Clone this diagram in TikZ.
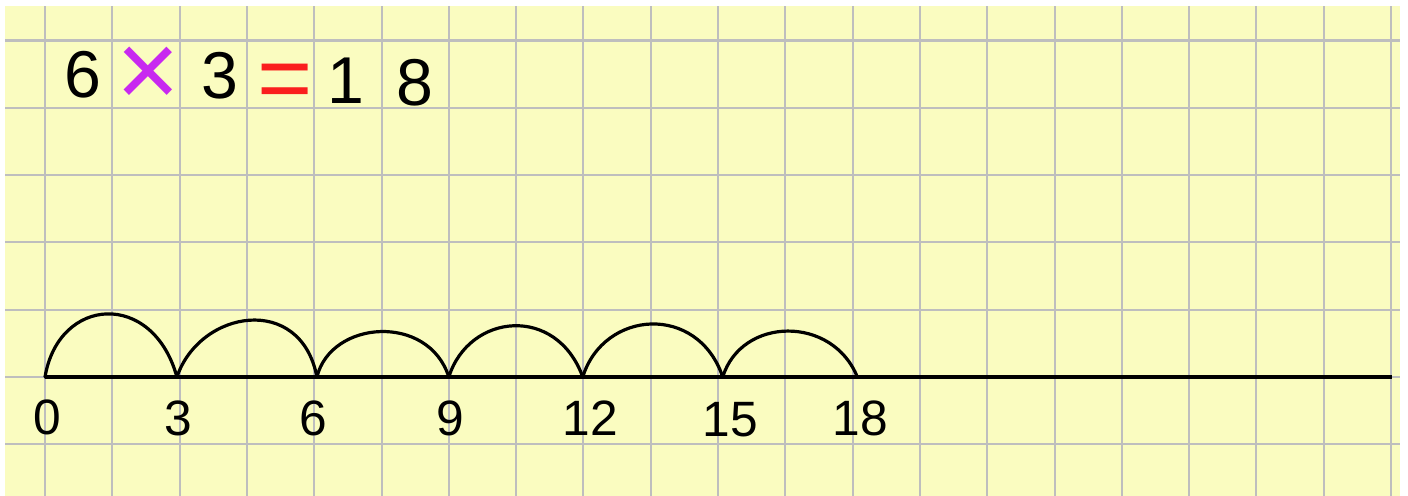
\documentclass[tikz,border=0pt]{standalone}
\usepackage{fontspec}
\setmainfont{Liberation Sans}
\usepackage{xcolor}
\usetikzlibrary{positioning}

\definecolor{paper}{RGB}{250,252,192}
\definecolor{gridgray}{RGB}{190,190,190}
\definecolor{timescol}{RGB}{200,40,240}
\definecolor{equalcol}{RGB}{250,30,30}

\tikzset{
  gridline/.style={gridgray, line width=0.85pt},
  axisline/.style={black, line width=1.3pt},
  jump/.style={black, line width=1.35pt, line cap=round, line join=round},
  eqtext/.style={inner sep=0pt, font=\fontsize{28}{32}\selectfont},
  numlabel/.style={inner sep=0pt, font=\fontsize{21}{24}\selectfont}
}

\begin{document}
\begin{tikzpicture}
            \useasboundingbox (-0.669,-1.768) rectangle (20.253,5.602);
            \fill[paper] (-0.594,-1.768) rectangle (20.13,5.513);
            \draw[gridline] (-0.594,-1.768) grid (20.13,5.513);
            % equation
            \node[eqtext](six) at (0.56,4.49) {6};
            \node[eqtext, text=timescol, font=\fontsize{46}{50}\selectfont](times) at (1.53,4.45) {×};
            \node[eqtext](three) at (2.6,4.47) {3};
            \node[eqtext, text=equalcol, font=\fontsize{40}{44}\selectfont](equal) at (3.57,4.31) {=};
            \node[eqtext](one) at (4.47,4.40) {1};
            \node[eqtext](eight) at (5.5,4.38) {8};
            % number line
            \coordinate (p0) at (0,0);
            \coordinate (p3) at (1.96,0);
            \coordinate (p6) at (4.04,0);
            \coordinate (p9) at (6.0,0);
            \coordinate (p12) at (7.99,0);
            \coordinate (p15) at (10.07,0);
            \coordinate (p18) at (12.07,0);
            \coordinate (pend) at (20.01,0);
            \draw[axisline] (p0) -- (pend);
            \draw[jump] (p0) .. controls (0.2,1.2) and (1.6,1.3) .. (p3);
            \draw[jump] (p3) .. controls (2.3,1.0) and (3.8,1.25) .. (p6);
            \draw[jump] (p6) .. controls (4.25,0.85) and (5.7,0.95) .. (p9);
            \draw[jump] (p9) .. controls (6.3,0.95) and (7.6,1.08) .. (p12);
            \draw[jump] (p12) .. controls (8.3,1.0) and (9.7,1.1) .. (p15);
            \draw[jump] (p15) .. controls (10.35,0.9) and (11.7,0.92) .. (p18);
            % labels
            \node[numlabel](l0) at (0.03,-0.6) {0};
            \node[numlabel](l3) at (1.98,-0.61) {3};
            \node[numlabel](l6) at (3.98,-0.61) {6};
            \node[numlabel](l9) at (6.02,-0.61) {9};
            \node[numlabel](l12) at (8.1,-0.61) {12};
            \node[numlabel](l15) at (10.18,-0.63) {15};
            \node[numlabel](l18) at (12.11,-0.61) {18};
        \end{tikzpicture}
\end{document}
